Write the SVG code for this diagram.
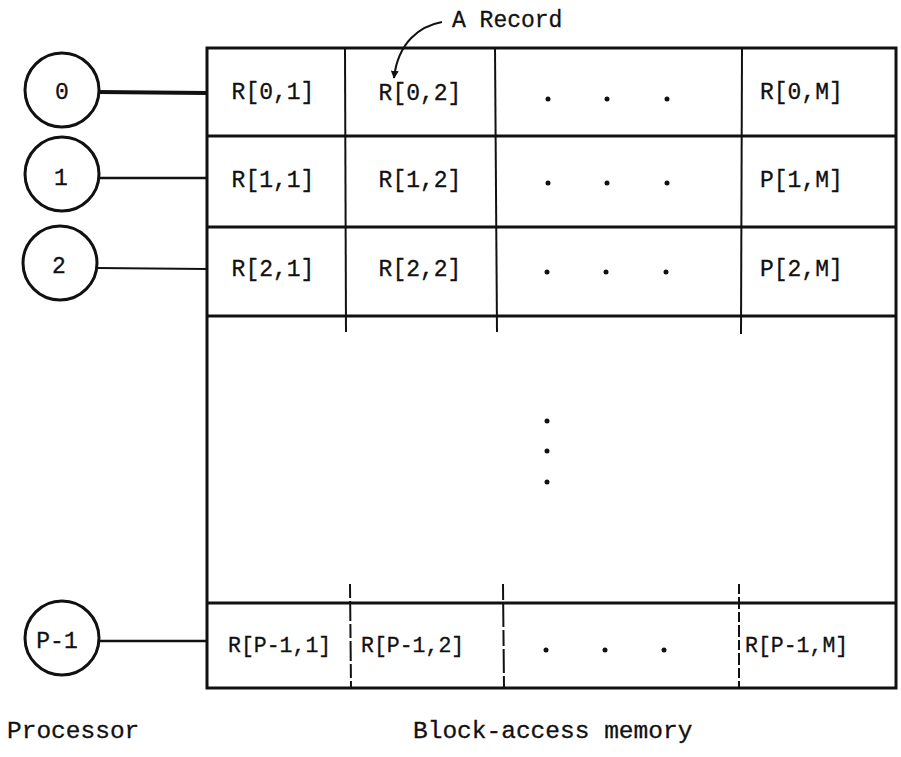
<svg xmlns="http://www.w3.org/2000/svg" width="901" height="757" viewBox="0 0 901 757">
<defs>
<style>
.t{font-family:"Liberation Mono","DejaVu Sans Mono",monospace;font-size:23px;fill:#111;stroke:#111;stroke-width:0.3}
.s{font-size:21.5px}
.l{font-size:24.5px}
.c{fill:#fff;stroke:#111;stroke-width:3}
.g{fill:none;stroke:#111;stroke-width:3}
.th{fill:none;stroke:#111;stroke-width:2}
.d{fill:#111}
</style>
<marker id="ah" viewBox="0 0 10 10" refX="9" refY="5" markerWidth="8" markerHeight="8" orient="auto" markerUnits="userSpaceOnUse">
<path d="M0,0 L10,5 L0,10 z" fill="#111"/>
</marker>
</defs>
<rect width="901" height="757" fill="#fff"/>
<g id="connectors">
<line x1="98" y1="92" x2="207" y2="93" stroke="#111" stroke-width="4"/>
<line x1="99" y1="178" x2="207" y2="178" stroke="#111" stroke-width="2.5"/>
<line x1="97" y1="268" x2="207" y2="269" stroke="#111" stroke-width="2"/>
<line x1="100" y1="641" x2="207" y2="641" stroke="#111" stroke-width="2.5"/>
<path d="M442,22 C420,26 398,42 394,78" fill="none" stroke="#111" stroke-width="2" marker-end="url(#ah)"/>
</g>
<g id="memory">
<rect x="207" y="48" width="689" height="640" class="g"/>
<line x1="207" y1="136" x2="896" y2="136" class="g"/>
<line x1="207" y1="227" x2="896" y2="227" class="g"/>
<line x1="207" y1="316" x2="896" y2="316" class="g"/>
<line x1="207" y1="603" x2="896" y2="603" class="g"/>
<line x1="345" y1="48" x2="346" y2="332" class="th"/>
<line x1="495" y1="48" x2="497" y2="332" class="th"/>
<line x1="742" y1="48" x2="741" y2="334" class="th"/>
<line x1="350" y1="584" x2="351" y2="688" class="th" stroke-dasharray="14 3 20 3"/>
<line x1="503" y1="584" x2="504" y2="688" class="th" stroke-dasharray="16 3 24 3"/>
<line x1="739" y1="584" x2="739" y2="688" class="th" stroke-dasharray="10 3 12 3"/>
</g>
<g id="cells">
<text class="t" x="273" y="99" text-anchor="middle">R[0,1]</text>
<text class="t" x="420" y="100" text-anchor="middle">R[0,2]</text>
<text class="t" x="760" y="99">R[0,M]</text>
<text class="t" x="273" y="187" text-anchor="middle">R[1,1]</text>
<text class="t" x="420" y="187" text-anchor="middle">R[1,2]</text>
<text class="t" x="760" y="187">P[1,M]</text>
<text class="t" x="273" y="276" text-anchor="middle">R[2,1]</text>
<text class="t" x="420" y="276" text-anchor="middle">R[2,2]</text>
<text class="t" x="760" y="276">P[2,M]</text>
<text class="t s" x="228" y="652">R[P-1,1]</text>
<text class="t s" x="361" y="652">R[P-1,2]</text>
<text class="t s" x="745" y="652">R[P-1,M]</text>
<circle class="d" cx="548" cy="99" r="2.5"/><circle class="d" cx="607" cy="99" r="2.5"/><circle class="d" cx="667" cy="99" r="2.5"/>
<circle class="d" cx="548" cy="183" r="2.5"/><circle class="d" cx="607" cy="183" r="2.5"/><circle class="d" cx="667" cy="183" r="2.5"/>
<circle class="d" cx="547" cy="272" r="2.5"/><circle class="d" cx="606" cy="272" r="2.5"/><circle class="d" cx="666" cy="272" r="2.5"/>
<circle class="d" cx="547" cy="421" r="2.5"/><circle class="d" cx="547" cy="451" r="2.5"/><circle class="d" cx="547" cy="482" r="2.5"/>
<circle class="d" cx="546" cy="650" r="2.5"/><circle class="d" cx="605" cy="650" r="2.5"/><circle class="d" cx="664" cy="650" r="2.5"/>
</g>
<g id="p0"><circle class="c" cx="62" cy="90" r="37"/><text class="t" x="62" y="99" text-anchor="middle">0</text></g>
<g id="p1"><circle class="c" cx="62" cy="174" r="37"/><text class="t" x="61" y="185" text-anchor="middle">1</text></g>
<g id="p2"><circle class="c" cx="60" cy="263" r="37"/><text class="t" x="59" y="273" text-anchor="middle">2</text></g>
<g id="pP1"><circle class="c" cx="62" cy="638" r="37"/><text class="t" x="57" y="648" text-anchor="middle">P-1</text></g>
<g id="labels">
<text class="t" x="452" y="27">A Record</text>
<text class="t l" x="7" y="738">Processor</text>
<text class="t l" x="413" y="738">Block-access memory</text>
</g>
</svg>
